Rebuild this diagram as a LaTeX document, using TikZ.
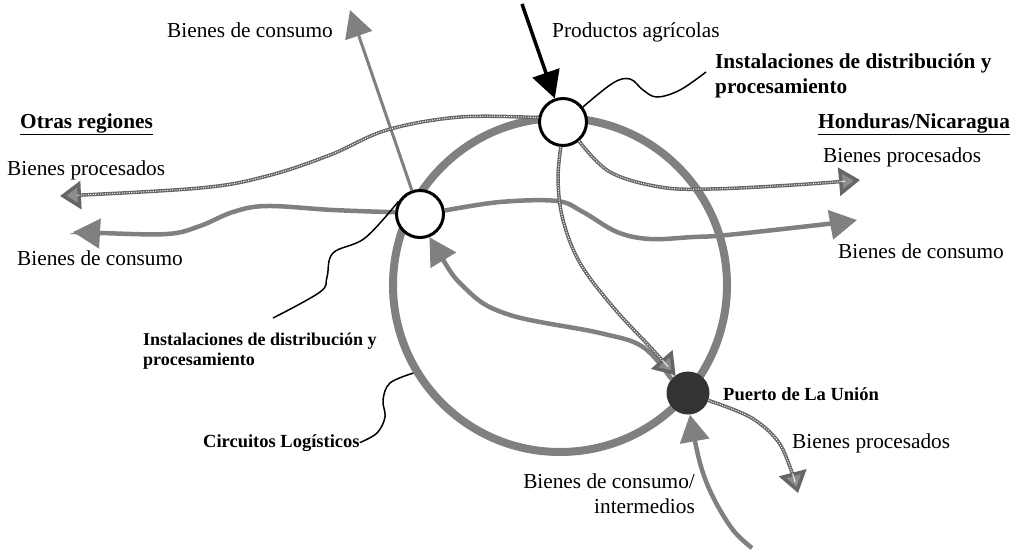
\documentclass[tikz,border=0pt]{standalone}
\usepackage{fontspec}
\setmainfont{Liberation Serif}
\usetikzlibrary{arrows.meta}
\begin{document}
\begin{tikzpicture}[x=1pt,y=-1pt,
  txt/.style={inner sep=0pt, anchor=base west, font=\fontsize{21.3}{25}\selectfont},
  btxt/.style={txt, font=\fontsize{21.3}{25}\selectfont\bfseries},
  stxt/.style={txt, font=\fontsize{18.5}{21}\selectfont\bfseries},
  hub/.style={circle, draw=black, line width=3pt, fill=white, minimum size=47pt, inner sep=0pt},
  portst/.style={circle, fill=black!80, minimum size=43pt, inner sep=0pt},
  ringst/.style={circle, draw=black!50, line width=8pt, minimum size=334pt, inner sep=0pt},
  gtip/.tip={Triangle[length=27pt,width=29pt]},
  gflow/.style={draw=black!50, line width=4.5pt, -gtip},
  gthin/.style={draw=black!50, line width=3pt, -{Triangle[length=27pt,width=28pt]}},
  chk/.style={draw=black!60, line width=3.5pt, -{Triangle[length=21pt,width=28pt,fill=black!45,color=black!60]},
    postaction={draw=white, line width=1pt, dash pattern=on 1pt off 1.4pt, arrows=-, shorten >=19pt}},
  blk/.style={draw=black, line width=3.5pt, -{Triangle[length=27pt,width=28pt]}},
  lead/.style={draw=black, line width=1.5pt},
  sm/.style={smooth, tension=0.6}
]
\useasboundingbox (0,0) rectangle (1011,550);

% ring and hubs
\node[ringst] (ring) at (560,285) {};
\node[hub] (tn) at (563,122) {};
\node[hub] (ln) at (420,214) {};
\node[portst] (pt) at (688,393) {};

% texts
\node[txt] (t1) at (167,37) {Bienes de consumo};
\node[txt] (t2) at (552,37) {Productos agrícolas};
\node[btxt] (t3) at (715,68) {\begin{tabular}[t]{@{}l@{}}Instalaciones de distribución y\\procesamiento\end{tabular}};
\node[btxt] (t4) at (20,128) {\underline{Otras regiones}};
\node[txt] (t5) at (7,175) {Bienes procesados};
\node[txt] (t6) at (17,265) {Bienes de consumo};
\node[btxt] (t7) at (818,128) {\underline{Honduras/Nicaragua}};
\node[txt] (t8) at (823,162) {Bienes procesados};
\node[txt] (t9) at (838,258) {Bienes de consumo};
\node[txt, font=\fontsize{18}{20}\selectfont\bfseries] (t10) at (143,345) {\begin{tabular}[t]{@{}l@{}}Instalaciones de distribución y\\procesamiento\end{tabular}};
\node[stxt] (lcirc) at (203,447) {Circuitos Logísticos};
\node[stxt] (t12) at (723,400) {Puerto de La Unión};
\node[txt] (t13) at (792,448) {Bienes procesados};
\node[txt, anchor=base east] (t14) at (695,488) {\begin{tabular}[t]{@{}r@{}}Bienes de consumo/\\intermedios\end{tabular}};

% free ends
\coordinate (pa) at (522,4);
\coordinate (pb) at (350,10);
\coordinate (pc) at (60,196);
\coordinate (pd) at (73,232);
\coordinate (pe) at (857,220);
\coordinate (pf) at (860,180);
\coordinate (pg) at (798,493);
\coordinate (ph) at (752,548);
\coordinate (qa) at (706,72);
\coordinate (qb) at (273,318);

% flows
\draw[gthin] (ln) -- (pb);
\draw[chk] plot[sm] coordinates {(tn.170) (460,117) (387,130) (330,155) (267,176) (200,188) (pc)};
\draw[gflow] plot[sm] coordinates {(ln.176) (333,210) (267,206) (233,212) (200,226) (167,234) (100,233) (pd)};
\draw[gflow] plot[sm] coordinates {(ln.8) (500,202) (557,201) (583,212) (617,232) (650,239) (693,237) (727,235) (827,224) (pe)};
\draw[chk] plot[sm] coordinates {(tn.-50) (610,172) (660,187) (710,189) (793,185) (pf)};
\draw[gflow, gtip-] plot[sm] coordinates {(ln.-68) (467,290) (510,315) (600,333) (643,347) (pt.140)};
\draw[chk] plot[sm] coordinates {(tn.-95) (558,180) (563,220) (580,263) (613,307) (653,350) (pt.125)};
\draw[chk] plot[sm] coordinates {(pt.-20) (750,417) (777,440) (790,467) (pg)};
\draw[gflow] plot[sm] coordinates {(ph) (733,530) (713,497) (700,463) (pt.-85)};
\draw[blk] (pa) -- (tn);

% leaders
\draw[lead] plot[sm] coordinates {(tn.37) (613,83) (630,79) (643,90) (657,97) (680,90) (qa)};
\draw[lead] plot[sm] coordinates {(ln.150) (365,238) (333,253) (327,277) (320,292) (qb)};
\draw[lead] plot[sm] coordinates {(ring.211) (390,383) (383,400) (385,417) (377,433) (lcirc.east)};
\end{tikzpicture}
\end{document}
